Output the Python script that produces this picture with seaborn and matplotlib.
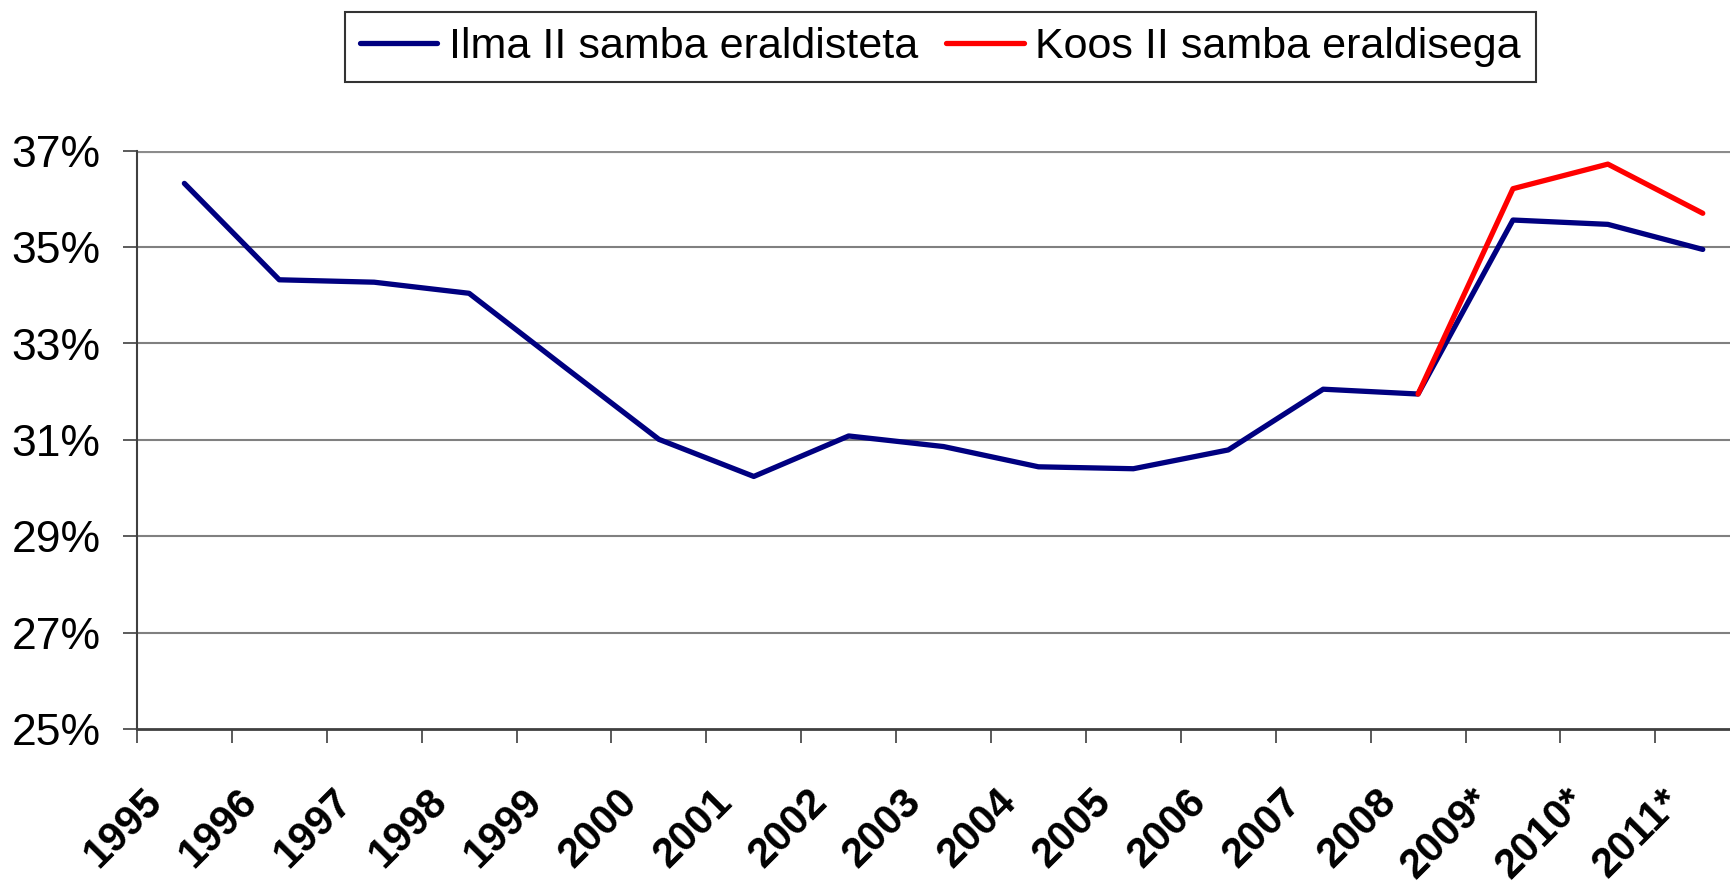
import numpy as np
import pandas as pd
import matplotlib
matplotlib.use("Agg")
import matplotlib.pyplot as plt
import matplotlib.transforms as mtransforms
import seaborn as sns

# data
years = ['1995', '1996', '1997', '1998', '1999', '2000', '2001', '2002', '2003',
         '2004', '2005', '2006', '2007', '2008', '2009*', '2010*', '2011*']
ilma = [36.32, 34.32, 34.27, 34.04, 32.52, 31.01, 30.24, 31.08, 30.86,
        30.44, 30.40, 30.79, 32.05, 31.95, 35.56, 35.47, 34.95]
koos_years = ['2008', '2009*', '2010*', '2011*']
koos = [31.95, 36.21, 36.72, 35.70]

label_ilma = 'Ilma II samba eraldisteta'
label_koos = 'Koos II samba eraldisega'

sns.set_style("white", {'text.color': 'black', 'xtick.color': 'black',
                        'ytick.color': 'black', 'axes.labelcolor': 'black'})
plt.rcParams['font.family'] = ['Liberation Sans', 'DejaVu Sans']

pos = {y: i for i, y in enumerate(years)}
df1 = pd.DataFrame({'x': [pos[y] for y in years], 'v': ilma})
df2 = pd.DataFrame({'x': [pos[y] for y in koos_years], 'v': koos})

fig = plt.figure(figsize=(17.31, 8.871), dpi=100)
ax = fig.add_axes([0.0791, 0.1781, 0.932, 0.652])

sns.lineplot(data=df1, x='x', y='v', ax=ax, color='#000080', linewidth=3.8,
             label=label_ilma, legend=False)
sns.lineplot(data=df2, x='x', y='v', ax=ax, color='#ff0000', linewidth=3.8,
             label=label_koos, legend=False)

ax.set_xlim(-0.5, len(years) - 0.5)
ax.set_ylim(25, 37)
ax.set_xlabel('')
ax.set_ylabel('')

# y axis
yt = np.arange(25, 38, 2)
ax.set_yticks(yt)
ax.set_yticklabels([f'{v}%' for v in yt], fontsize=32, color='black')
for v in yt[1:-1]:
    ax.axhline(v, color='#808080', linewidth=1.5, zorder=0)
ax.axhline(37, color='#8c8c8c', linewidth=3, zorder=0)
ax.tick_params(axis='y', direction='out', length=10, width=1.2, color='#404040',
               pad=16, left=True)

# x axis: ticks at category boundaries, labels at centers
ax.set_xticks(np.arange(-0.5, len(years) - 0.5, 1))
ax.set_xticklabels([])
ax.set_xticks(np.arange(len(years)), minor=True)
ax.set_xticklabels(years, minor=True, fontsize=30, fontweight='bold', color='black',
                   rotation=45, ha='right', va='center', rotation_mode='anchor')
ax.tick_params(axis='x', which='major', direction='out', length=10, width=1.2,
               color='#404040', bottom=True)
ax.tick_params(axis='x', which='minor', length=0, pad=40)
shift = mtransforms.ScaledTranslation(-0.28, -0.11, fig.dpi_scale_trans)
for lbl in ax.get_xticklabels(minor=True):
    lbl.set_transform(lbl.get_transform() + shift)

for side in ['top', 'right']:
    ax.spines[side].set_visible(False)
ax.spines['left'].set_color('#404040')
ax.spines['left'].set_linewidth(1.5)
ax.spines['bottom'].set_color('#404040')
ax.spines['bottom'].set_linewidth(2)

handles, labels = ax.get_legend_handles_labels()
leg = fig.legend(handles, labels, loc='center', bbox_to_anchor=(0.5433, 0.9465),
                 ncol=2, fontsize=31, frameon=True, fancybox=False,
                 edgecolor='black', handlelength=1.8, handletextpad=0.27,
                 columnspacing=0.65, borderpad=0.35)
leg.get_frame().set_linewidth(1.5)
for t in leg.get_texts():
    t.set_color('black')

fig.savefig('out.png', dpi=100)
